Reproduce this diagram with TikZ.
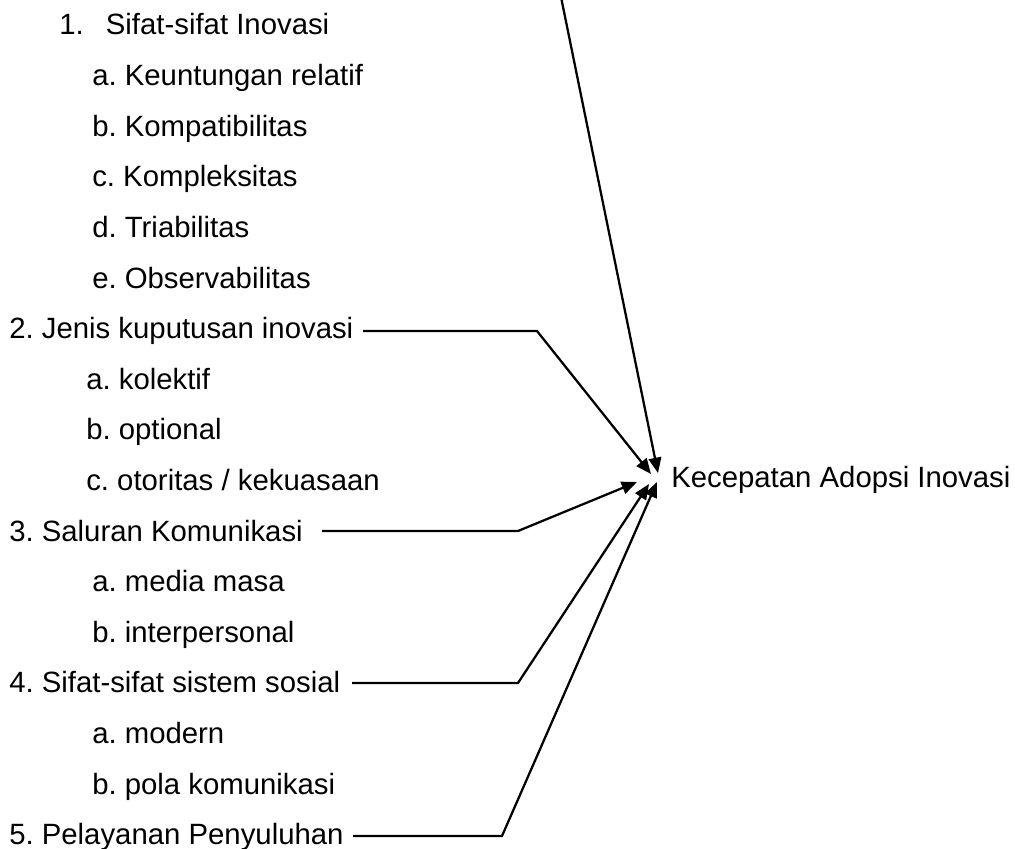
\documentclass[tikz,border=0pt]{standalone}
\usepackage{fontspec}
\setmainfont{Liberation Sans}
\usetikzlibrary{arrows.meta}
\frenchspacing
\begin{document}
\frenchspacing
\begin{tikzpicture}[x=0.75pt,y=-0.75pt,
  lbl/.style={anchor=base west,inner sep=0pt,font=\fontsize{22}{26}\selectfont\frenchspacing},
  conn/.style={line width=1.7pt,line join=miter},
  arr/.style={conn,-{Triangle[length=11.5pt,width=9.5pt]}}]
\useasboundingbox (0,0) rectangle (1015,849);
% labels
\node[lbl] (i1)  at (59,35)    {\makebox[35pt][l]{1.}Sifat-sifat Inovasi};
\node[lbl] (i1a) at (92,85.6)  {a. Keuntungan relatif};
\node[lbl] (i1b) at (92,136.2) {b. Kompatibilitas};
\node[lbl] (i1c) at (92,186.8) {c. Kompleksitas};
\node[lbl] (i1d) at (92,237.4) {d. Triabilitas};
\node[lbl] (i1e) at (92,288)   {e. Observabilitas};
\node[lbl] (i2)  at (9,338.6)  {2. Jenis kuputusan inovasi};
\node[lbl] (i2a) at (86,389.2) {a. kolektif};
\node[lbl] (i2b) at (86,439.8) {b. optional};
\node[lbl] (i2c) at (86,490.4) {c. otoritas / kekuasaan};
\node[lbl] (i3)  at (9,541)    {3. Saluran Komunikasi};
\node[lbl] (i3a) at (92,591.6) {a. media masa};
\node[lbl] (i3b) at (92,642.2) {b. interpersonal};
\node[lbl] (i4)  at (9,692.8)  {4. Sifat-sifat sistem sosial};
\node[lbl] (i4a) at (92,743.4) {a. modern};
\node[lbl] (i4b) at (92,794)   {b. pola komunikasi};
\node[lbl] (i5)  at (9,844.6)  {5. Pelayanan Penyuluhan};
\node[lbl] (K)   at (671,487)  {Kecepatan Adopsi Inovasi};
% connector points
\coordinate (t0) at (561,-3);
\coordinate (s2) at (363,331);  \coordinate (b2) at (537,331);
\coordinate (s3) at (322,531);  \coordinate (b3) at (518,531);
\coordinate (s4) at (352,683);  \coordinate (b4) at (518,683);
\coordinate (s5) at (353,836);  \coordinate (b5) at (502,836);
\coordinate (e1) at (658,473);
\coordinate (e2) at (651,474);
\coordinate (e3) at (637,482);
\coordinate (e4) at (649,484);
\coordinate (e5) at (657,482);
% connectors
\draw[arr] (t0) -- (e1);
\draw[arr] (s2) -- (b2) -- (e2);
\draw[arr] (s3) -- (b3) -- (e3);
\draw[arr] (s4) -- (b4) -- (e4);
\draw[arr] (s5) -- (b5) -- (e5);
\end{tikzpicture}
\end{document}
